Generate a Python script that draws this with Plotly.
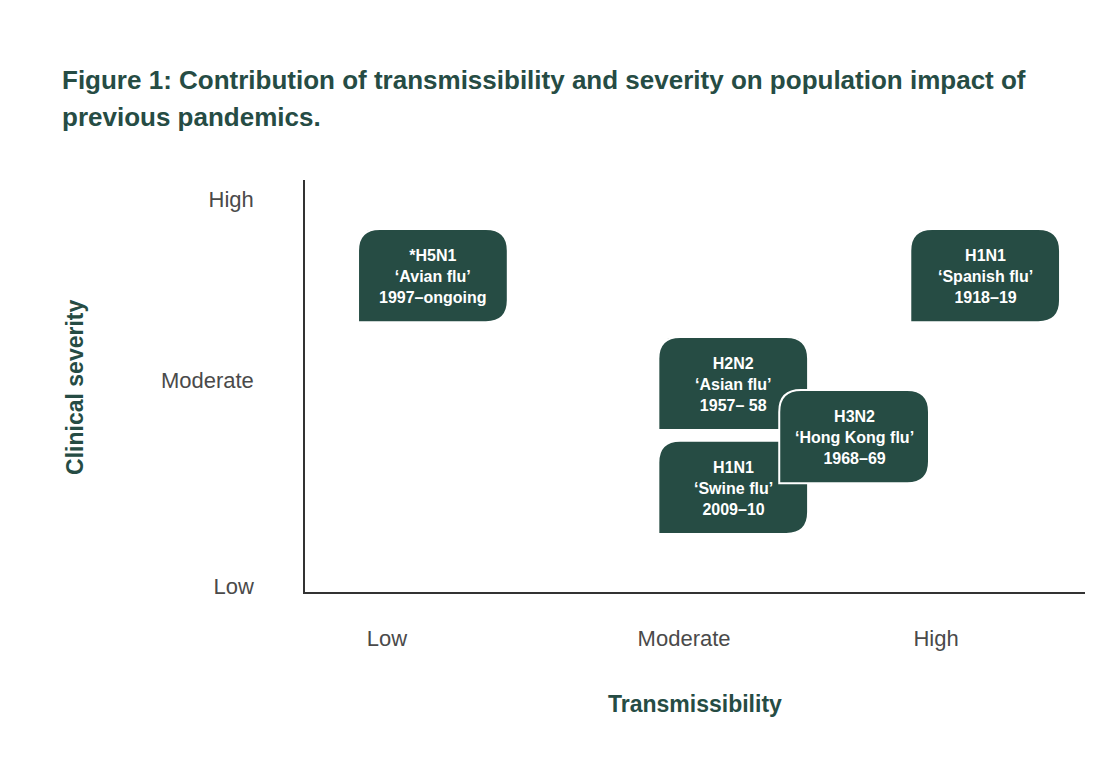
import plotly.graph_objects as go

# pandemic boxes: label lines, transmissibility (x), severity (y)
names = ["*H5N1", "H1N1", "H2N2", "H1N1", "H3N2"]
nicknames = ["‘Avian flu’", "‘Spanish flu’", "‘Asian flu’", "‘Swine flu’", "‘Hong Kong flu’"]
years = ["1997–ongoing", "1918–19", "1957– 58", "2009–10", "1968–69"]
transmissibility = [16.4, 87.2, 54.9, 54.9, 70.4]
severity = [76.8, 76.8, 50.6, 25.4, 37.7]

# axis ticks
x_tickvals = [10.5, 48.6, 80.9]
y_tickvals = [1.5, 51.5, 95.4]
level_labels = ["Low", "Moderate", "High"]

GREEN = "#264c44"
FONT = "Liberation Sans, Arial, sans-serif"

# box size in axis units (plot area is 780 x 412 px for 100 x 100 units)
box_w = 19.2
box_h = 22.6
rx = 2.8
ry = 5.3


def leaf_path(cx, cy):
    x0, x1 = cx - box_w / 2, cx + box_w / 2
    y0, y1 = cy - box_h / 2, cy + box_h / 2
    return (f"M {x0},{y0} L {x0},{y1 - ry} Q {x0},{y1} {x0 + rx},{y1} "
            f"L {x1 - rx},{y1} Q {x1},{y1} {x1},{y1 - ry} "
            f"L {x1},{y0 + ry} Q {x1},{y0} {x1 - rx},{y0} Z")


fig = go.Figure()
fig.add_trace(go.Scatter(x=transmissibility, y=severity, mode="markers",
                         marker=dict(size=1, opacity=0), hoverinfo="skip",
                         showlegend=False))

for i in range(len(names)):
    fig.add_shape(type="path", path=leaf_path(transmissibility[i], severity[i]),
                  xref="x", yref="y", fillcolor=GREEN,
                  line=dict(color="white", width=2), layer="above")
    fig.add_annotation(x=transmissibility[i], y=severity[i] - 0.3, xref="x", yref="y",
                       text=f"<b>{names[i]}<br>{nicknames[i]}<br>{years[i]}</b>",
                       showarrow=False, font=dict(family=FONT, size=16, color="white"),
                       align="center", yanchor="middle")

fig.add_annotation(x=-0.314, y=1.243, xref="paper", yref="paper",
                   xanchor="left", yanchor="middle",
                   text="<b>Figure 1: Contribution of transmissibility and severity on population impact of</b>",
                   showarrow=False, font=dict(family=FONT, size=26, color=GREEN))
fig.add_annotation(x=-0.314, y=1.153, xref="paper", yref="paper",
                   xanchor="left", yanchor="middle",
                   text="<b>previous pandemics.</b>",
                   showarrow=False, font=dict(family=FONT, size=26, color=GREEN))
fig.add_annotation(x=0.5, y=-0.272, xref="paper", yref="paper",
                   xanchor="center", yanchor="middle",
                   text="<b>Transmissibility</b>", showarrow=False,
                   font=dict(family=FONT, size=23, color=GREEN))
fig.add_annotation(x=-0.295, y=0.4976, xref="paper", yref="paper",
                   xanchor="center", yanchor="middle",
                   text="<b>Clinical severity</b>", showarrow=False, textangle=-90,
                   font=dict(family=FONT, size=23, color=GREEN))

fig.update_xaxes(range=[0, 100], showline=True, linecolor="#333333", linewidth=1.5,
                 showgrid=False, zeroline=False, ticks="",
                 tickvals=x_tickvals, ticktext=level_labels, ticklabelstandoff=26,
                 tickfont=dict(family=FONT, size=22, color="#4a4a4a"), fixedrange=True)
fig.update_yaxes(range=[0, 100], showline=True, linecolor="#333333", linewidth=1.5,
                 showgrid=False, zeroline=False, ticks="",
                 tickvals=y_tickvals, ticktext=level_labels, ticklabelstandoff=45,
                 tickfont=dict(family=FONT, size=22, color="#4a4a4a"), fixedrange=True)

# page body adds an 8 px offset, so the figure is shrunk by that amount
fig.update_layout(width=1099, height=749, plot_bgcolor="white", paper_bgcolor="white",
                  margin=dict(l=297, r=22, t=172, b=165), showlegend=False)

fig.write_html("out.html")
